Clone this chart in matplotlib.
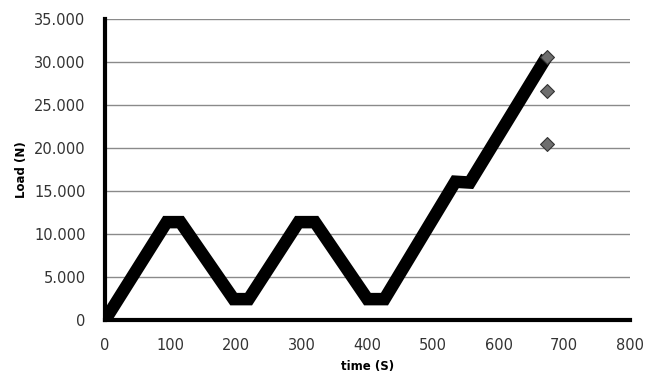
import matplotlib.pyplot as plt
from matplotlib.ticker import FuncFormatter

# breakpoints of the load history (time in s, load in N)
time_s = [0, 94, 115, 196, 219, 295, 320, 400, 426, 534, 556, 673]
load_n = [0, 11400, 11400, 2450, 2450, 11400, 11400, 2450, 2450, 16100, 16000, 30600]

# the separate grey points at the end
end_t = [673, 673, 673]
end_load = [30600, 26700, 20450]

fig = plt.figure(figsize=(6.48, 3.83), dpi=100)
ax = fig.add_axes([0.162, 0.164, 0.810, 0.786])

ax.plot(time_s, load_n, color="black", lw=9, solid_joinstyle="miter",
        solid_capstyle="butt", zorder=3)
ax.plot([time_s[0]], [load_n[0]], marker="D", ms=8, color="black", zorder=4)
ax.scatter(end_t, end_load, marker="D", s=50, color="#6e6e6e",
           edgecolors="#333333", linewidths=0.8, zorder=5)

ax.set_xlim(0, 800)
ax.set_ylim(0, 35000)
ax.set_xticks(range(0, 801, 100))
ax.set_yticks(range(0, 35001, 5000))
ax.yaxis.set_major_formatter(FuncFormatter(lambda v, p: f"{int(v):,}".replace(",", ".")))

ax.grid(axis="y", color="#8a8a8a", lw=1)
ax.set_axisbelow(True)
for s in ["top", "right"]:
    ax.spines[s].set_visible(False)
ax.spines["left"].set_linewidth(3)
ax.spines["bottom"].set_linewidth(3)
ax.tick_params(length=0, labelsize=10.5, colors="#333333")
ax.tick_params(axis="y", pad=14)
ax.tick_params(axis="x", pad=13)

ax.set_xlabel("time (S)", fontsize=8.5, fontweight="bold", labelpad=5)
ax.set_ylabel("Load (N)", fontsize=8.5, fontweight="bold", labelpad=4)

fig.savefig("out.png", dpi=100)
